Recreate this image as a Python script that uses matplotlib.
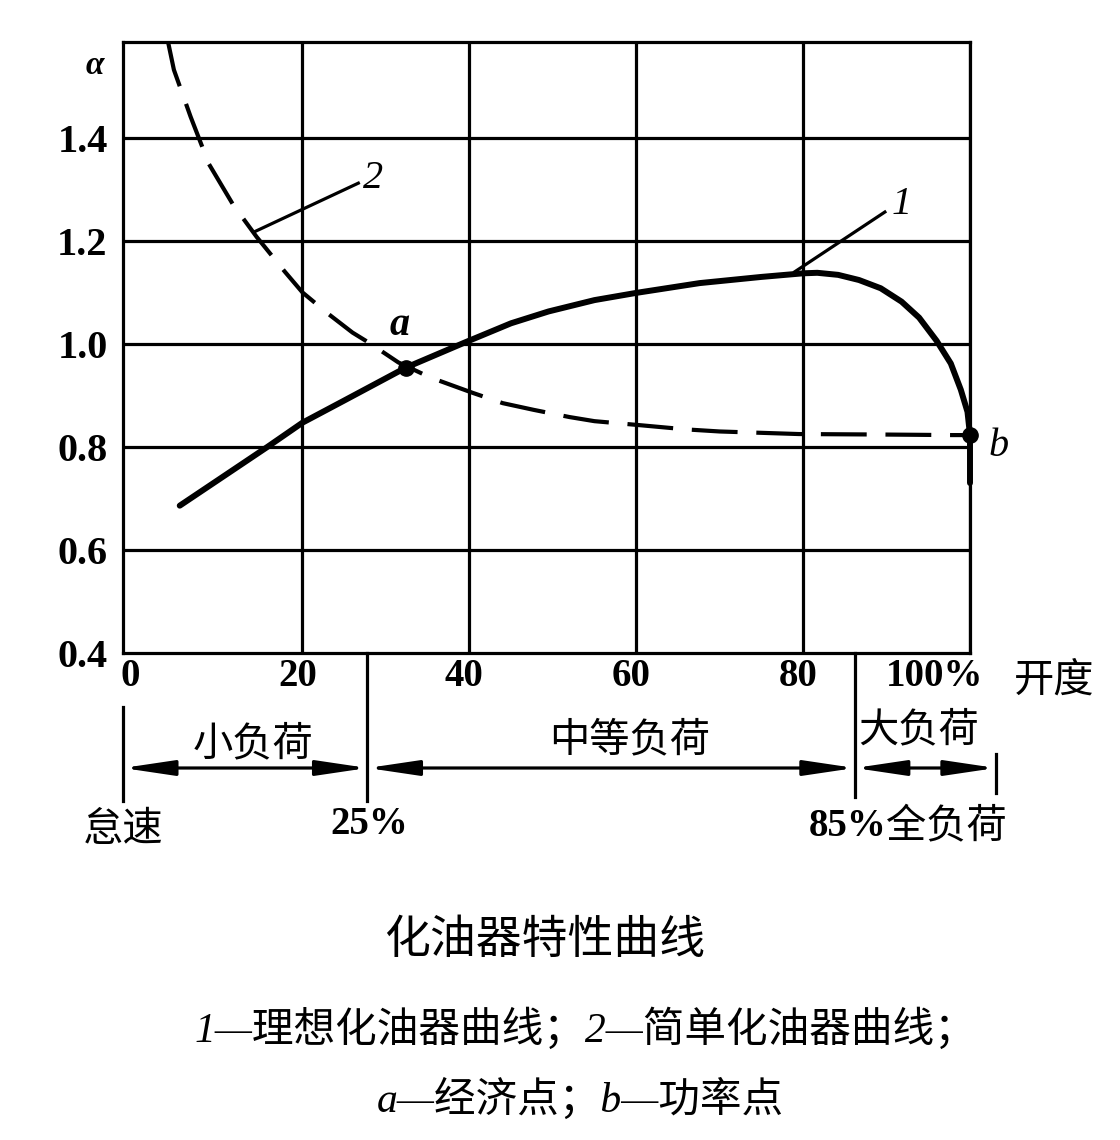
import matplotlib
matplotlib.use('Agg')
import matplotlib.pyplot as plt
import matplotlib.transforms as mtrans
from matplotlib.patches import FancyArrowPatch
from matplotlib.lines import Line2D

# ---------------- data ----------------
grid_x = [20, 40, 60, 80, 100]
grid_y = [0.6, 0.8, 1.0, 1.2, 1.4]
x_ticks = [0, 20, 40, 60, 80, 100]
x_tick_labels = ['0', '20', '40', '60', '80', '100%']
y_ticks = [0.4, 0.6, 0.8, 1.0, 1.2, 1.4]
y_tick_labels = ['0.4', '0.6', '0.8', '1.0', '1.2', '1.4']

# curve 1: ideal carburetor
ideal_x = [5.3, 10, 15.8, 20, 25, 32.4, 39.5, 45, 49.5, 55, 60, 67.6, 75, 80, 81.7, 84.2, 86.7,
           89.3, 91.8, 93.9, 96.0, 97.7, 98.9, 99.7, 100, 100]
ideal_y = [0.686, 0.737, 0.80, 0.847, 0.890, 0.954, 1.003, 1.040, 1.063, 1.085, 1.099, 1.118, 1.130, 1.137,
           1.138, 1.134, 1.124, 1.108, 1.082, 1.051, 1.006, 0.962, 0.911, 0.868, 0.823, 0.73]

# curve 2: simple carburetor
simple_x = [3.9, 4.6, 6.6, 8.8, 11.7, 14.5, 17.9, 20, 23.2, 26, 28, 31.5, 35.3, 40.4, 44, 47.7, 52, 55,
            60.6, 66, 70, 79.5, 90, 97.8, 100]
simple_y = [1.586, 1.532, 1.441, 1.349, 1.270, 1.208, 1.140, 1.100, 1.057, 1.022, 1.002, 0.964, 0.935,
            0.905, 0.885, 0.872, 0.858, 0.850, 0.842, 0.834, 0.830, 0.825, 0.824, 0.823, 0.823]

point_a = (32.4, 0.954)
point_b = (100, 0.823)

load_split_x = [-1.5, 27.8, 86.2, 103.1]   # 怠速, 25%, 85%, 全负荷 (in opening units)
load_names = ['小负荷', '中等负荷', '大负荷']

SERIF = 'Liberation Serif'
CJK = 'Noto Sans CJK SC'
MIX = [SERIF, CJK]

W, H = 1120, 1140
fig = plt.figure(figsize=(W / 100, H / 100), dpi=100)
fig.patch.set_facecolor('white')

ax = fig.add_axes([123 / W, 1 - 653 / H, 847 / W, 611 / H])
ax.set_xlim(-1.5, 100)
ax.set_ylim(0.4, 1.586)
for s in ax.spines.values():
    s.set_linewidth(2.3)
    s.set_color('black')

for gx in grid_x:
    ax.axvline(gx, color='black', lw=2.3, zorder=1)
for gy in grid_y:
    ax.axhline(gy, color='black', lw=2.3, zorder=1)

ax.set_xticks([])
ax.set_yticks(y_ticks)
ax.set_yticklabels(y_tick_labels, fontfamily=SERIF, fontweight='bold', fontsize=29)
ax.tick_params(axis='y', length=0, pad=11)

# x tick labels
tr = mtrans.blended_transform_factory(ax.transData, ax.transAxes)
for xv, lab in zip(x_ticks, x_tick_labels):
    if lab.endswith('%'):
        off = mtrans.ScaledTranslation(13 / 100, -24 / 100, fig.dpi_scale_trans)
        ha = 'right'
    else:
        off = mtrans.ScaledTranslation(-5 / 100, -24 / 100, fig.dpi_scale_trans)
        ha = 'center'
    ax.text(xv, 0, lab, transform=tr + off, ha=ha, va='center',
            fontfamily=SERIF, fontweight='bold', fontsize=28, clip_on=False)

# curves
ax.plot(ideal_x, ideal_y, color='black', lw=4.3, solid_capstyle='round', solid_joinstyle='round',
        zorder=3, clip_on=False)
ln, = ax.plot(simple_x, simple_y, color='black', lw=3.0, zorder=3)
ln.set_dashes((11, 4.5))
ax.plot(*point_a, 'o', color='black', ms=11, zorder=4)
ax.plot(*point_b, 'o', color='black', ms=11, zorder=4, clip_on=False)

# leader lines and labels
ax.plot([14.3, 26.7], [1.218, 1.312], color='black', lw=2.3, zorder=3)
ax.text(28.5, 1.322, '2', fontfamily=SERIF, style='italic', fontsize=29, ha='center', va='center')
ax.plot([79.0, 89.8], [1.140, 1.256], color='black', lw=2.3, zorder=3)
ax.text(91.8, 1.270, '1', fontfamily=SERIF, style='italic', fontsize=29, ha='center', va='center')
ax.text(31.7, 1.036, 'a', fontfamily=SERIF, style='italic', fontweight='bold', fontsize=29, ha='center', va='center')
ax.text(103.4, 0.80, 'b', fontfamily=SERIF, style='italic', fontsize=29, ha='center', va='center', clip_on=False)
ax.text(-4.9, 1.54, 'α', fontfamily=SERIF, style='italic', fontweight='bold', fontsize=24, ha='center', va='center', clip_on=False)


def ptxt(x, y, s, **kw):
    kw.setdefault('ha', 'center')
    fig.text(x / W, 1 - y / H, s, va='center', **kw)


def px_x(xd):
    return 135.5 + xd * 8.345


ptxt(1054, 680, '开度', fontfamily=CJK, fontsize=29, fontweight='medium')

# load range annotation
arrow_y = 768
vlines = [(px_x(load_split_x[0]), 707, 801), (px_x(load_split_x[1]), 653, 801),
          (px_x(load_split_x[2]), 653, 797), (px_x(load_split_x[3]), 754, 793)]
for xx, y0, y1 in vlines:
    fig.add_artist(Line2D([xx / W, xx / W], [1 - y0 / H, 1 - y1 / H], color='black', lw=2.3,
                          transform=fig.transFigure))
for i in range(3):
    xa = px_x(load_split_x[i]) / W
    xb = px_x(load_split_x[i + 1]) / W
    arr = FancyArrowPatch((xa, 1 - arrow_y / H), (xb, 1 - arrow_y / H),
                          arrowstyle='<|-|>,head_length=31,head_width=4.6',
                          mutation_scale=1, lw=2.3, color='black', shrinkA=0, shrinkB=0,
                          transform=fig.transFigure)
    fig.add_artist(arr)

name_pos = [(253, 744), (630, 740), (919, 730)]
for (xx, yy), nm in zip(name_pos, load_names):
    ptxt(xx, yy, nm, fontfamily=CJK, fontsize=29, fontweight='medium')

ptxt(123, 829, '怠速', fontfamily=CJK, fontsize=29, fontweight='medium')
ptxt(369, 824, '25%', fontfamily=SERIF, fontsize=28, fontweight='bold')
ptxt(886, 826, '85%', fontfamily=SERIF, fontsize=28, fontweight='bold', ha='right')
ptxt(886, 826, '全负荷', fontfamily=CJK, fontsize=29, fontweight='medium', ha='left')

# title and captions
ptxt(545, 940, '化油器特性曲线', fontfamily=CJK, fontsize=33, fontweight='medium')
ptxt(585, 1030, '1—理想化油器曲线；2—简单化油器曲线；', fontfamily=MIX, fontsize=30, style='italic')
ptxt(580, 1100, 'a—经济点；b—功率点', fontfamily=MIX, fontsize=30, style='italic')

fig.savefig('out.png', dpi=100, facecolor='white')
